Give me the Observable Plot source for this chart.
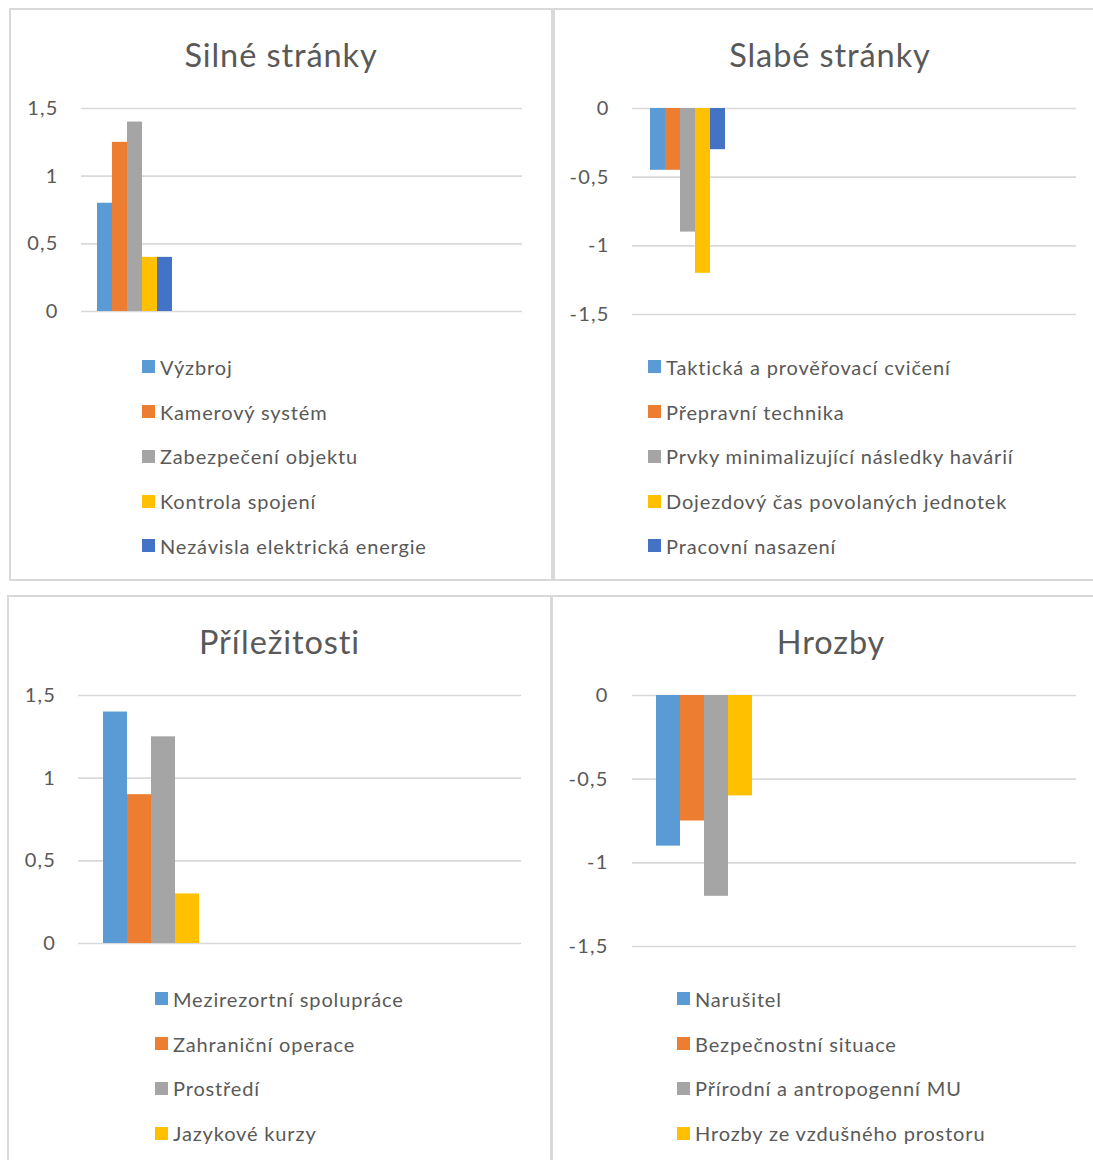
<!DOCTYPE html>
<html><head><meta charset="utf-8">
<script src="https://cdn.jsdelivr.net/npm/d3@7"></script>
<script src="https://cdn.jsdelivr.net/npm/@observablehq/plot@0.6"></script>
<style>
body{margin:0;background:#fff;font-family:Lato,"Open Sans",sans-serif;color:#595959;}
#page{position:relative;width:1093px;height:1160px;overflow:hidden;background:#fff;}
.panel{position:absolute;border:2px solid #d9d9d9;box-sizing:border-box;background:#fff;}
.title{position:absolute;font-size:32.5px;line-height:32px;letter-spacing:0.9px;text-align:center;white-space:nowrap;color:#595959;}
.legend{position:absolute;font-size:20px;letter-spacing:0.85px;color:#595959;}
.row{display:flex;align-items:center;height:44.7px;white-space:nowrap;}
.sw{width:13px;height:13px;margin-right:5px;flex:none;}
.chart{position:absolute;}
.chart text{letter-spacing:1.2px;}
</style></head>
<body><div id="page"></div>
<script>
// ---- data ----
const colors = ["#5B9BD5", "#ED7D31", "#A5A5A5", "#FFC000", "#4472C4"];
const posTicks = [0, 0.5, 1, 1.5];
const negTicks = [0, -0.5, -1, -1.5];

const silneTitle = "Silné stránky";
const silneLabels = ["Výzbroj", "Kamerový systém", "Zabezpečení objektu", "Kontrola spojení", "Nezávisla elektrická energie"];
const silneValues = [0.8, 1.25, 1.4, 0.4, 0.4];

const slabeTitle = "Slabé stránky";
const slabeLabels = ["Taktická a prověřovací cvičení", "Přepravní technika", "Prvky minimalizující následky havárií", "Dojezdový čas povolaných jednotek", "Pracovní nasazení"];
const slabeValues = [-0.45, -0.45, -0.9, -1.2, -0.3];

const prilTitle = "Příležitosti";
const prilLabels = ["Mezirezortní spolupráce", "Zahraniční operace", "Prostředí", "Jazykové kurzy"];
const prilValues = [1.4, 0.9, 1.25, 0.3];

const hrozTitle = "Hrozby";
const hrozLabels = ["Narušitel", "Bezpečnostní situace", "Přírodní a antropogenní MU", "Hrozby ze vzdušného prostoru"];
const hrozValues = [-0.9, -0.75, -1.2, -0.6];

// ---- layout (page coordinates) ----
const panels = [
  {title: silneTitle, labels: silneLabels, values: silneValues, ticks: posTicks, domain: [0, 1.5],
   box: [9, 8, 544, 573], titleY: 38.6, gx: [81, 522], gy: [311, 108], bx: [95, 174], pad: 23, leg: [142, 344.6]},
  {title: slabeTitle, labels: slabeLabels, values: slabeValues, ticks: negTicks, domain: [-1.5, 0],
   box: [553, 8, 554, 573], titleY: 38.6, gx: [632, 1076], gy: [314, 108], bx: [648, 726], pad: 23, leg: [648, 344.6]},
  {title: prilTitle, labels: prilLabels, values: prilValues, ticks: posTicks, domain: [0, 1.5],
   box: [7, 595, 545, 600], titleY: 625.6, gx: [78, 521], gy: [943, 695], bx: [103, 199], pad: 22.5, leg: [155, 976.6]},
  {title: hrozTitle, labels: hrozLabels, values: hrozValues, ticks: negTicks, domain: [-1.5, 0],
   box: [551, 595, 560, 600], titleY: 625.6, gx: [632, 1076], gy: [946, 695], bx: [655, 752], pad: 24, leg: [677, 976.6]}
];

const page = document.getElementById("page");
const fmt = d => String(d).replace(".", ",");

for (const p of panels) {
  const [L, T, W, H] = p.box;
  const panel = document.createElement("div");
  panel.className = "panel";
  Object.assign(panel.style, {left: L + "px", top: T + "px", width: W + "px", height: H + "px"});
  page.appendChild(panel);

  const title = document.createElement("div");
  title.className = "title";
  title.textContent = p.title;
  Object.assign(title.style, {left: L + "px", width: W + "px", top: p.titleY + "px"});
  page.appendChild(title);

  const svgTop = T + 70;
  const svgW = Math.min(W, 1093 - L);
  const data = p.labels.map((name, i) => ({name, value: p.values[i]}));
  const yRange = [p.gy[0] - svgTop, p.gy[1] - svgTop];
  const chart = Plot.plot({
    width: svgW,
    height: yRange[0] + 16,
    marginLeft: p.gx[0] - L,
    marginRight: L + svgW - p.gx[1],
    marginTop: yRange[1],
    marginBottom: 16,
    style: {fontFamily: "Lato, 'Open Sans', sans-serif", fontSize: "20px", color: "#595959", background: "transparent", overflow: "visible"},
    x: {domain: p.labels, range: [p.bx[0] - L, p.bx[1] - L], padding: 0, axis: null},
    y: {domain: p.domain, range: yRange, ticks: p.ticks, tickFormat: fmt, tickSize: 0, tickPadding: p.pad, label: null},
    color: {domain: p.labels, range: colors},
    marks: [
      Plot.ruleY(p.ticks, {stroke: "#d9d9d9", strokeWidth: 1.6}),
      Plot.barY(data, {x: "name", y: "value", fill: "name"})
    ]
  });
  chart.classList.add("chart");
  Object.assign(chart.style, {left: L + "px", top: svgTop + "px"});
  page.appendChild(chart);

  const legend = document.createElement("div");
  legend.className = "legend";
  Object.assign(legend.style, {left: p.leg[0] + "px", top: p.leg[1] + "px"});
  p.labels.forEach((name, i) => {
    const row = document.createElement("div");
    row.className = "row";
    const sw = document.createElement("div");
    sw.className = "sw";
    sw.style.background = colors[i];
    const tx = document.createElement("span");
    tx.textContent = name;
    row.appendChild(sw); row.appendChild(tx);
    legend.appendChild(row);
  });
  page.appendChild(legend);
}
</script>
</body></html>
